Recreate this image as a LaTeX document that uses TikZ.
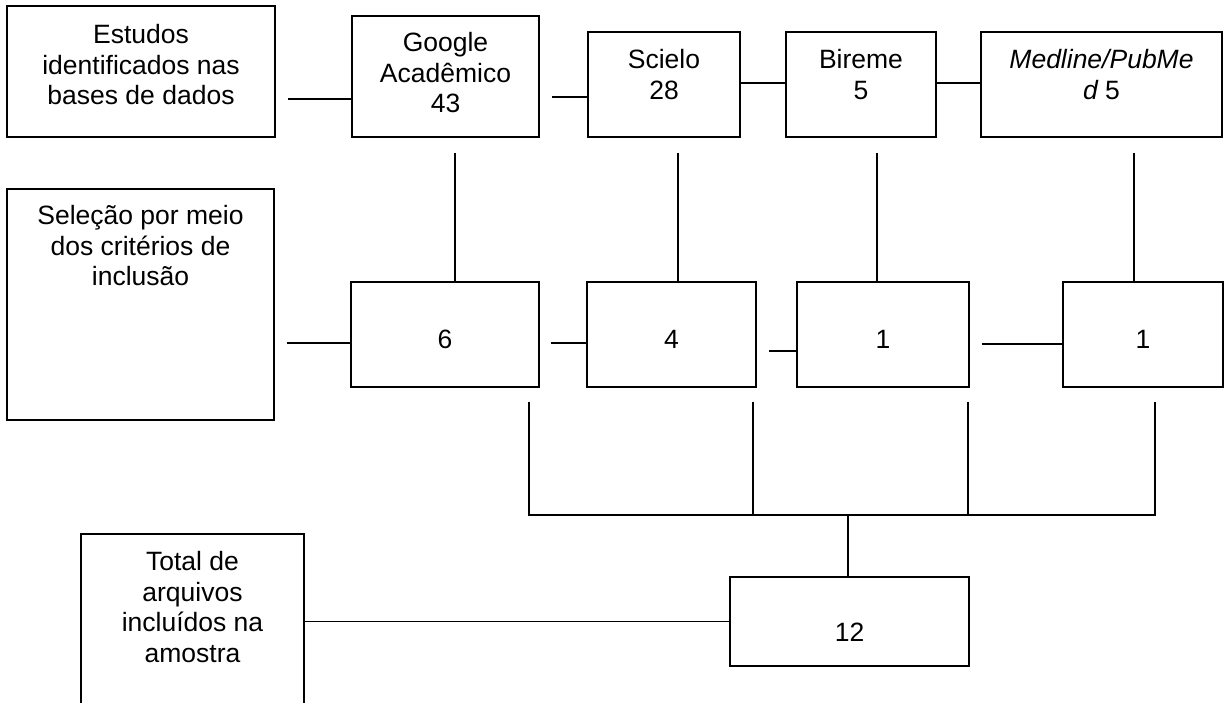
\documentclass[tikz,border=0pt]{standalone}
\usepackage{fontspec}
\setmainfont{Liberation Sans}
\begin{document}
\begin{tikzpicture}[x=1pt,y=-1pt,
  box/.style={draw=black,line width=1.7pt,inner sep=0pt,minimum width=#1},
  txt/.style={inner sep=0pt,align=center,font=\fontsize{26.5}{30.5}\selectfont},
  conn/.style={draw=black,line width=1.7pt}]
\useasboundingbox (0,0) rectangle (1226,702);
% row 1
\node[box=268pt,minimum height=131pt] (est) at (141,71.5) {};
\node[box=187pt,minimum height=121pt] (goo) at (445.5,76.5) {};
\node[box=152pt,minimum height=105pt] (sci) at (664,84.5) {};
\node[box=150pt,minimum height=105pt] (bir) at (861,84.5) {};
\node[box=241pt,minimum height=105pt] (med) at (1101.5,84.5) {};
% row 2
\node[box=267pt,minimum height=231pt] (sel) at (140.5,304.5) {};
\node[box=188pt,minimum height=105pt] (six) at (445,334.5) {};
\node[box=169pt,minimum height=105pt] (four) at (671.5,334.5) {};
\node[box=172pt,minimum height=105pt] (onea) at (883,334.5) {};
\node[box=160pt,minimum height=105pt] (oneb) at (1143,334.5) {};
% row 3
\node[box=223pt,minimum height=186pt] (tot) at (192.5,627) {};
\node[box=239pt,minimum height=89pt] (twelve) at (849.5,621.5) {};
% texts
\node[txt,anchor=north] (testu) at ([yshift=-19pt]est.north) {Estudos\\identificados nas\\bases de dados};
\node[txt,anchor=north] (tgoo) at ([yshift=-17pt]goo.north) {Google\\Acadêmico\\43};
\node[txt,anchor=north] (tsci) at ([yshift=-18pt]sci.north) {Scielo\\28};
\node[txt,anchor=north] (tbir) at ([yshift=-18pt]bir.north) {Bireme\\5};
\node[txt,anchor=north] (tmed) at ([yshift=-18pt]med.north) {\itshape Medline/PubMe\\\itshape d\upshape{} 5};
\node[txt,anchor=north] (tsel) at ([yshift=-17pt]sel.north) {Seleção por meio\\dos critérios de\\inclusão};
\node[txt,anchor=north] (ttot) at ([yshift=-18pt]tot.north) {Total de\\arquivos\\incluídos na\\amostra};
\node[txt] (tsix) at ([yshift=-5pt]six.center) {6};
\node[txt] (tfour) at ([yshift=-5pt]four.center) {4};
\node[txt] (tonea) at ([yshift=-5pt]onea.center) {1};
\node[txt] (toneb) at ([yshift=-5pt]oneb.center) {1};
\node[txt] (ttwelve) at ([yshift=-11pt]twelve.center) {12};
% horizontal connectors
\draw[conn,shorten <=12pt] (est.east |- 0,99) -- (goo.west |- 0,99);
\draw[conn,shorten <=12pt] (goo.east |- 0,97) -- (sci.west |- 0,97);
\draw[conn] (sci.east |- 0,83) -- (bir.west |- 0,83);
\draw[conn] (bir.east |- 0,83) -- (med.west |- 0,83);
\draw[conn,shorten <=12pt] (sel.east |- 0,343) -- (six.west |- 0,343);
\draw[conn,shorten <=11pt] (six.east |- 0,343) -- (four.west |- 0,343);
\draw[conn,shorten <=12pt] (four.east |- 0,351) -- (onea.west |- 0,351);
\draw[conn,shorten <=12pt] (onea.east |- 0,344) -- (oneb.west |- 0,344);
\draw[conn] (tot.east |- 0,621.5) -- (twelve.west |- 0,621.5);
% vertical connectors
\draw[conn,shorten <=15pt] (goo.south -| 455,0) -- (six.north -| 455,0);
\draw[conn,shorten <=15pt] (sci.south -| 678,0) -- (four.north -| 678,0);
\draw[conn,shorten <=15pt] (bir.south -| 877,0) -- (onea.north -| 877,0);
\draw[conn,shorten <=15pt] (med.south -| 1134,0) -- (oneb.north -| 1134,0);
% fork
\coordinate (bar) at (848,515);
\draw[conn,shorten <=14pt] (six.south -| 529,0) |- (bar);
\draw[conn,shorten <=14pt] (four.south -| 753,0) |- (bar);
\draw[conn,shorten <=14pt] (onea.south -| 968,0) |- (bar);
\draw[conn,shorten <=14pt] (oneb.south -| 1155,0) |- (bar);
\draw[conn] (bar) -- (twelve.north -| bar);
\end{tikzpicture}
\end{document}
